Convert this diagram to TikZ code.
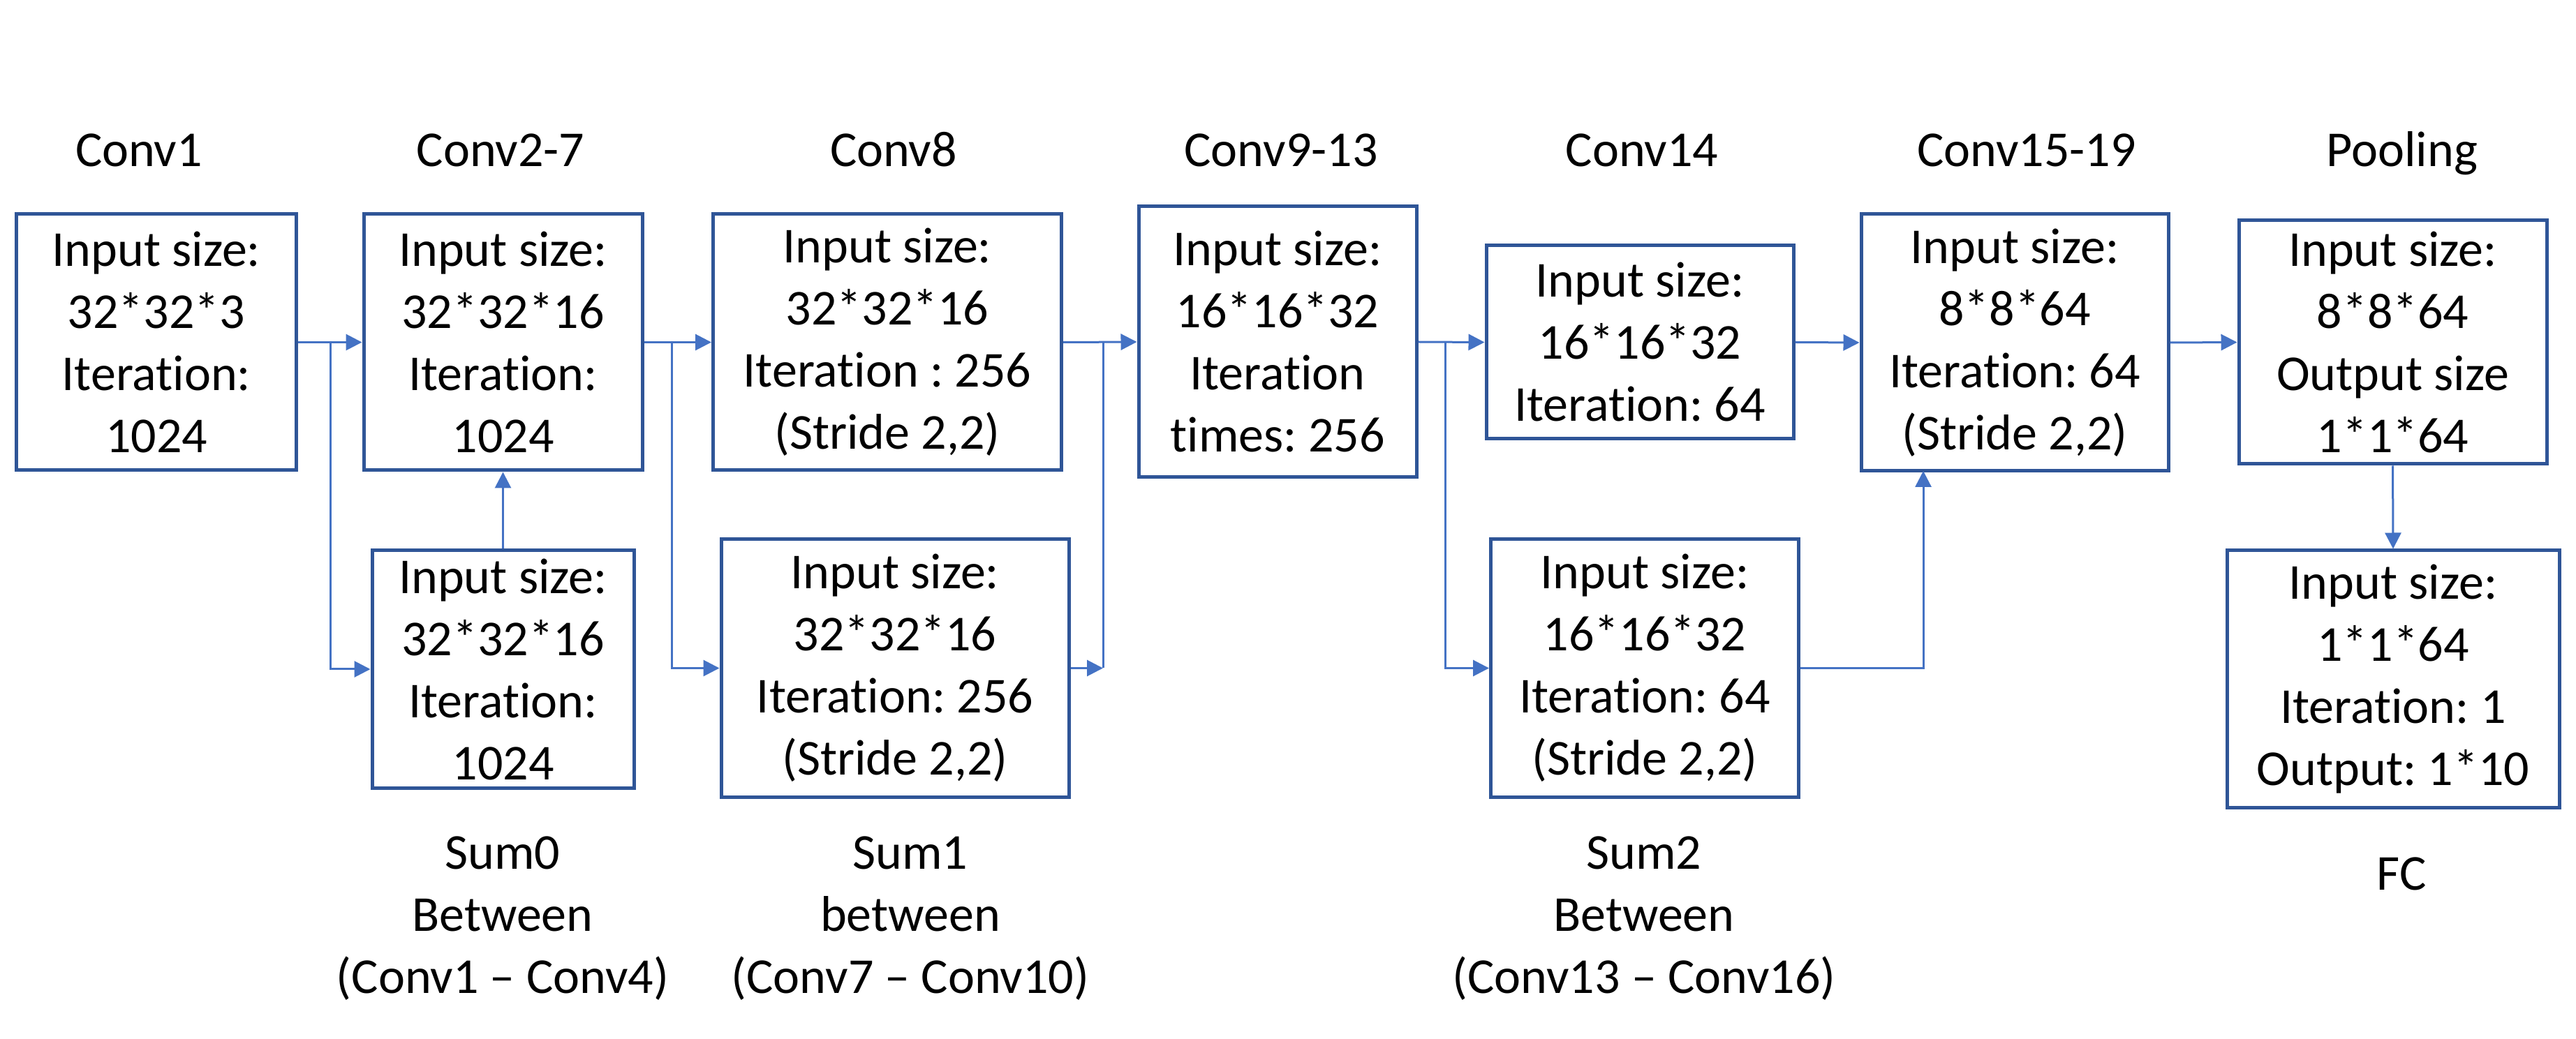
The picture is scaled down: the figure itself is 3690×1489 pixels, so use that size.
\documentclass[tikz,border=0pt]{standalone}
\usepackage{fontspec}
\setmainfont[Ligatures={NoCommon,NoDiscretionary}]{Carlito}
\usetikzlibrary{arrows.meta}
\definecolor{boxblue}{HTML}{2F5597}
\definecolor{linkblue}{HTML}{4472C4}
\frenchspacing
\begin{document}
\begin{tikzpicture}[x=0.2pt,y=-0.2pt,
  font=\fontsize{14.4pt}{17.8pt}\selectfont,
  blk/.style={draw=boxblue,line width=1pt,rectangle,inner sep=0pt,align=center,fill=white},
  conn/.style={draw=linkblue,line width=0.6pt},
  arr/.style={conn,-{Triangle[length=4.6pt,width=4.6pt]}},
  ttl/.style={anchor=base,inner sep=0pt},
  note/.style={anchor=north,inner sep=0pt,align=center}]
\useasboundingbox[fill=white] (0,0) rectangle (3690,1489);

% boxes
\node[blk,minimum width=80pt,minimum height=73.4pt] (c1) at (224,490.5) {Input size:\\32*32*3\\Iteration:\\1024};
\node[blk,minimum width=79.8pt,minimum height=73.4pt] (c27) at (720.5,490.5) {Input size:\\32*32*16\\Iteration:\\1024};
\node[blk,minimum width=75pt,minimum height=68pt] (s0) at (720.5,959) {Input size:\\32*32*16\\Iteration:\\1024};
\node[blk,minimum width=99.8pt,minimum height=73.4pt] (c8) at (1271,490.5) {Input size:\\32*32*16\\Iteration : 256\\(Stride 2,2)};
\node[blk,minimum width=99.6pt,minimum height=73.8pt] (s1) at (1282,957.5) {Input size:\\32*32*16\\Iteration: 256\\(Stride 2,2)};
\node[blk,minimum width=79.6pt,minimum height=77.6pt] (c913) at (1830,490) {Input size:\\16*16*32\\Iteration\\times: 256};
\node[blk,minimum width=88pt,minimum height=55.4pt] (c14) at (2349,490.5) {Input size:\\16*16*32\\Iteration: 64};
\node[blk,minimum width=88.2pt,minimum height=73.8pt] (s2) at (2356,957.5) {Input size:\\16*16*32\\Iteration: 64\\(Stride 2,2)};
\node[blk,minimum width=88pt,minimum height=73.6pt] (c1519) at (2886,491) {Input size:\\8*8*64\\Iteration: 64\\(Stride 2,2)};
\node[blk,minimum width=88.2pt,minimum height=69.8pt] (pool) at (3427.5,490.5) {Input size:\\8*8*64\\Output size\\1*1*64};
\node[blk,minimum width=95.2pt,minimum height=73.6pt] (fc) at (3428,973) {Input size:\\1*1*64\\Iteration: 1\\Output: 1*10};

% titles
\node[ttl] (t1) at (199,239) {Conv1};
\node[ttl] (t2) at (717,239) {Conv2-7};
\node[ttl] (t3) at (1280,239) {Conv8};
\node[ttl] (t4) at (1835,239) {Conv9-13};
\node[ttl] (t5) at (2352,239) {Conv14};
\node[ttl] (t6) at (2903,239) {Conv15-19};
\node[ttl] (t7) at (3441,239) {Pooling};

% notes below
\node[note] (n0) at (720,1198) {Sum0\\Between\\(Conv1 -- Conv4)};
\node[note] (n1) at (1304,1198) {Sum1\\between\\(Conv7 -- Conv10)};
\node[note] (n2) at (2355,1198) {Sum2\\Between\\(Conv13 -- Conv16)};
\node[ttl] (n3) at (3440,1275) {FC};

% junction coordinates
\coordinate (b0) at (473,490.5);
\coordinate (b1) at (962,490.5);
\coordinate (j1) at (1580,490.5);
\coordinate (b2) at (2070,490.5);
\coordinate (k2) at (2755,675);

% connectors
\draw[arr] (c1.east) -- (c27.west);
\draw[arr] (b0) |- (s0.west);
\draw[arr] (s0.north) -- (c27.south);
\draw[arr] (c27.east) -- (c8.west);
\draw[arr] (b1) |- (s1.west);
\draw[arr] (c8.east) -- (c913.west);
\draw[conn] (j1) -- (j1 |- s1.east);
\draw[arr] (s1.east) -- (s1.east -| j1);
\draw[arr] (c913.east) -- (c14.west);
\draw[arr] (b2) |- (s2.west);
\draw[arr] (c14.east) -- (c1519.west);
\draw[arr] (s2.east) -| (k2);
\draw[arr] (c1519.east) -- (pool.west);
\draw[arr] (pool.south) -- (fc.north);
\end{tikzpicture}
\end{document}
